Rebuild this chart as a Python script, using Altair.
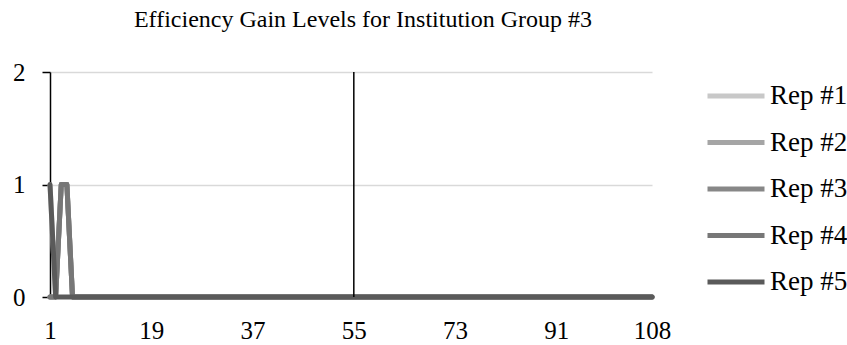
import altair as alt
import pandas as pd

# Period index along the x axis
periods = list(range(1, 109))

# Efficiency gain level per replication (first five periods, then flat at zero)
rep1 = [1, 0, 1, 1, 0] + [0] * 103
rep2 = [0, 0, 1, 1, 0] + [0] * 103
rep3 = [0, 0, 1, 1, 0] + [0] * 103
rep4 = [0, 0, 1, 1, 0] + [0] * 103
rep5 = [1, 0, 0, 0, 0] + [0] * 103

series_names = ["Rep #1", "Rep #2", "Rep #3", "Rep #4", "Rep #5"]
series_colors = ["#c8c8c8", "#a5a5a5", "#878787", "#777777", "#5a5a5a"]
x_tick_values = [1, 19, 37, 55, 73, 91, 108]
y_tick_values = [0, 1, 2]
marker_period = [55]

rows = []
for name, vals in zip(series_names, [rep1, rep2, rep3, rep4, rep5]):
    for p, v in zip(periods, vals):
        rows.append({"period": p, "level": v, "series": name, "order": series_names.index(name)})
df = pd.DataFrame(rows)
marker_df = pd.DataFrame({"period": marker_period, "lo": [0], "hi": [2]})

FONT = "Liberation Serif"

x_scale = alt.Scale(domain=[1, 108], nice=False, zero=False)
y_scale = alt.Scale(domain=[0, 2], nice=False)
x_axis = alt.Axis(
    values=x_tick_values, title=None, grid=False, ticks=False,
    domainColor="#868686", domainWidth=1.5,
    labelFont=FONT, labelFontSize=25, labelColor="#000000",
    labelPadding=21, labelFlush=False,
)
y_axis = alt.Axis(
    values=y_tick_values, tickCount=3, labelExpr="format(datum.value, '.0f')",
    title=None, labelOverlap=False,
    grid=True, gridColor="#d9d9d9", gridWidth=1.5,
    domainColor="#000000", domainWidth=1.5,
    tickColor="#000000", tickSize=8, tickWidth=1.5,
    labelFont=FONT, labelFontSize=25, labelColor="#000000",
    labelPadding=17,
)

lines = alt.Chart(df).mark_line(strokeWidth=5, strokeJoin="round", strokeCap="round").encode(
    x=alt.X("period:Q", scale=x_scale, axis=x_axis),
    y=alt.Y("level:Q", scale=y_scale, axis=y_axis),
    color=alt.Color(
        "series:N",
        scale=alt.Scale(domain=series_names, range=series_colors),
        sort=series_names,
        legend=alt.Legend(
            title=None, orient="none", legendX=655, legendY=-7,
            symbolType="stroke", symbolSize=3249, symbolStrokeWidth=5,
            labelFont=FONT, labelFontSize=27, labelColor="#000000",
            labelOffset=3, rowPadding=2.5, padding=0,
        ),
    ),
    order=alt.Order("order:Q"),
)

# Vertical reference line at period 55
marker = alt.Chart(marker_df).mark_rule(color="#000000", strokeWidth=1.5).encode(
    x=alt.X("period:Q", scale=x_scale, axis=x_axis),
    y=alt.Y("lo:Q", scale=y_scale, axis=y_axis),
    y2="hi:Q",
)

chart = (
    alt.layer(lines, marker)
    .properties(
        width=602,
        height=225,
        title=alt.TitleParams(
            "Efficiency Gain Levels for Institution Group #3",
            font=FONT, fontSize=24, fontWeight="normal", color="#000000",
            anchor="middle", frame="group", offset=28, dx=12,
        ),
        autosize=alt.AutoSizeParams(type="none"),
        padding={"left": 50, "top": 72, "right": 195, "bottom": 48},
    )
    .configure(background="#ffffff")
    .configure_view(strokeWidth=0)
)

chart.save("out.html", embed_options={"renderer": "svg", "actions": False})
